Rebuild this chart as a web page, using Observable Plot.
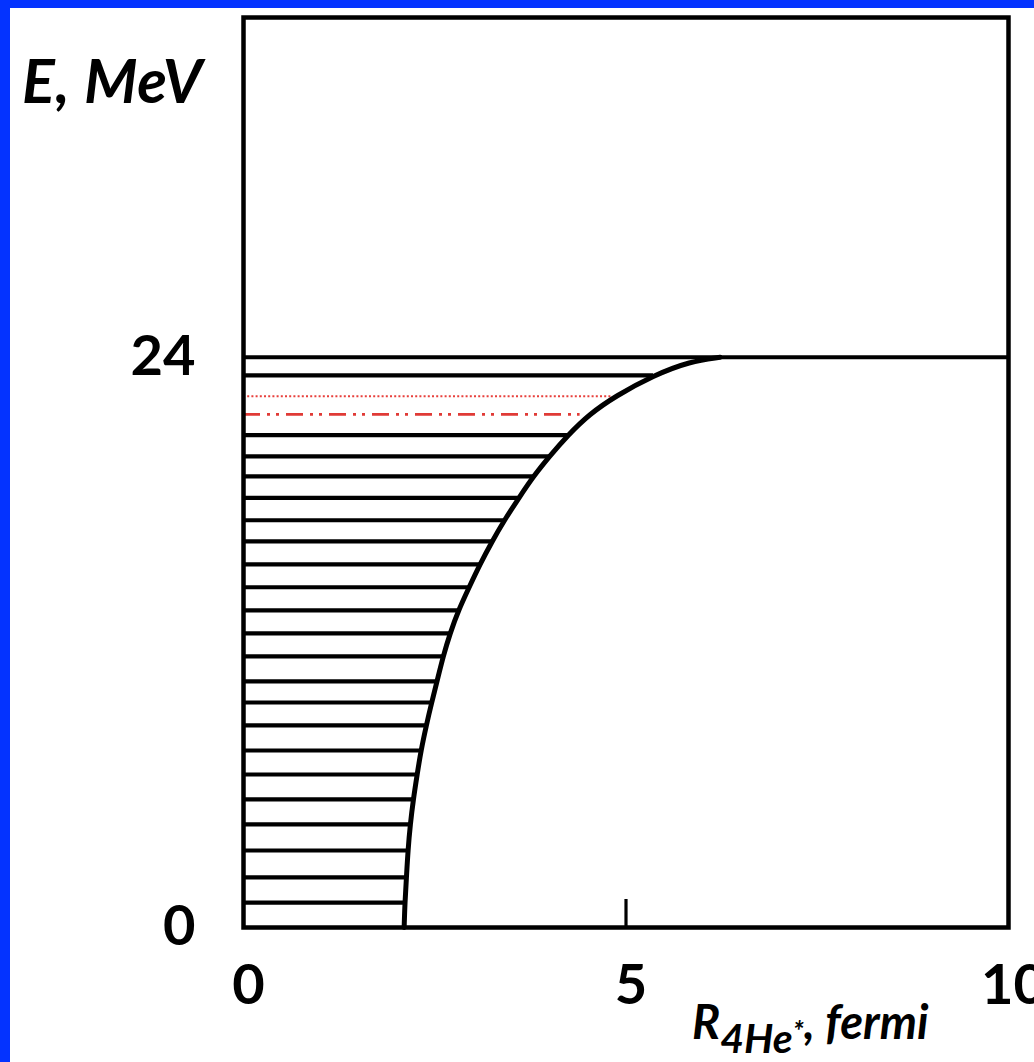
<!DOCTYPE html>
<html>
<head>
<meta charset="utf-8">
<script src="https://cdn.jsdelivr.net/npm/d3@7"></script>
<script src="https://cdn.jsdelivr.net/npm/@observablehq/plot@0.6"></script>
<style>
  html, body { margin: 0; padding: 0; background: #0433ff; width: 1034px; height: 1062px; overflow: hidden; }
  #panel { position: absolute; left: 10px; top: 8px; width: 1024px; height: 1054px; background: #fff; overflow: hidden; }
  #chart { position: absolute; left: 0; top: 0; }
  .ttl { position: absolute; font-family: Lato, "Open Sans", sans-serif; font-weight: 700; font-style: italic; line-height: 1; white-space: nowrap; color: #000; }
  #ylab { left: 12px; top: 41px; font-size: 61px; letter-spacing: 0.5px; }
  #xlab { left: 682px; top: 990px; }
  #xlab .R { font-size: 47px; }
  #xlab .sub { font-size: 41px; position: relative; top: 14px; }
  #xlab .sub .star { font-size: 28px; position: relative; top: -12px; }
  #xlab .rest { font-size: 47px; }
</style>
</head>
<body>
<div id="panel">
  <div id="chart"></div>
  <div class="ttl" id="ylab">E, MeV</div>
  <div class="ttl" id="xlab"><span class="R">R</span><span class="sub">4He<span class="star">*</span></span><span class="rest">, fermi</span></div>
</div>
<script>
// ---- data ----
const xTicks = [0, 5, 10];
const yTicks = [0, 24];
const thresholdE = 24;            // MeV, horizontal line across the frame
const markTickR = [5];            // small inner tick on the R axis

// boundary curve (R in fermi, E in MeV)
const curveR = [2.10, 2.11, 2.13, 2.15, 2.18, 2.22, 2.27, 2.32, 2.39, 2.46, 2.53, 2.61, 2.70, 2.81, 2.95, 3.09, 3.25, 3.41, 3.60, 3.79, 4.00, 4.24, 4.52, 4.86, 5.36, 5.84, 6.23];
const curveE = [0, 1.05, 2.11, 3.24, 4.34, 5.39, 6.44, 7.45, 8.51, 9.47, 10.36, 11.41, 12.38, 13.35, 14.32, 15.28, 16.25, 17.14, 18.08, 18.99, 19.83, 20.72, 21.60, 22.36, 23.24, 23.83, 24];

// black energy levels: energy and R where they meet the curve
const levelE = [1.05, 2.11, 3.24, 4.34, 5.39, 6.44, 7.45, 8.51, 9.47, 10.36, 11.41, 12.38, 13.35, 14.32, 15.28, 16.25, 17.14, 18.08, 18.99, 19.83, 20.72, 23.24];
const levelR = [2.11, 2.13, 2.15, 2.18, 2.22, 2.27, 2.32, 2.39, 2.46, 2.53, 2.61, 2.70, 2.81, 2.95, 3.09, 3.25, 3.41, 3.60, 3.79, 4.00, 4.24, 5.36];

// red levels
const dottedE = 22.36, dottedR = 4.82;
const dashDotE = 21.60, dashDotR = 4.40;

// ---- tables ----
const curve = curveR.map((r, i) => ({R: r, E: curveE[i]}));
const levels = levelE.map((e, i) => ({E: e, R: levelR[i]}));

const chart = Plot.plot({
  width: 1024,
  height: 1054,
  marginLeft: 233,
  marginRight: 26,
  marginTop: 9,
  marginBottom: 135,
  x: {domain: [0, 10]},
  y: {domain: [0, 38.3]},
  style: {fontFamily: "Lato, 'Open Sans', sans-serif", fontSize: "55px", fontWeight: "700", background: "white", color: "black", overflow: "visible"},
  marks: [
    Plot.ruleY(levels, {y: "E", x1: 0, x2: "R", stroke: "black", strokeWidth: 4.2}),
    Plot.ruleY([{E: dottedE, R: dottedR}], {y: "E", x1: 0, x2: "R", stroke: "#e8403c", strokeWidth: 2, strokeDasharray: "2,2.2"}),
    Plot.ruleY([{E: dashDotE, R: dashDotR}], {y: "E", x1: 0, x2: "R", stroke: "#e03a36", strokeWidth: 2.8, strokeDasharray: "17,7,3,6,3,7"}),
    Plot.ruleY([thresholdE], {stroke: "black", strokeWidth: 4.2}),
    Plot.line(curve, {x: "R", y: "E", stroke: "black", strokeWidth: 5, curve: "basis"}),
    Plot.ruleX(markTickR, {stroke: "black", strokeWidth: 3.2, insetTop: 882}),
    Plot.frame({stroke: "black", strokeWidth: 4.5}),
    Plot.axisY({ticks: yTicks, tickSize: 0, tickPadding: 48, label: null, fontSize: 56}),
    Plot.axisX({ticks: xTicks, tickSize: 0, tickPadding: 37, dx: 5, label: null, fontSize: 56})
  ]
});
document.getElementById("chart").appendChild(chart);
</script>
</body>
</html>
